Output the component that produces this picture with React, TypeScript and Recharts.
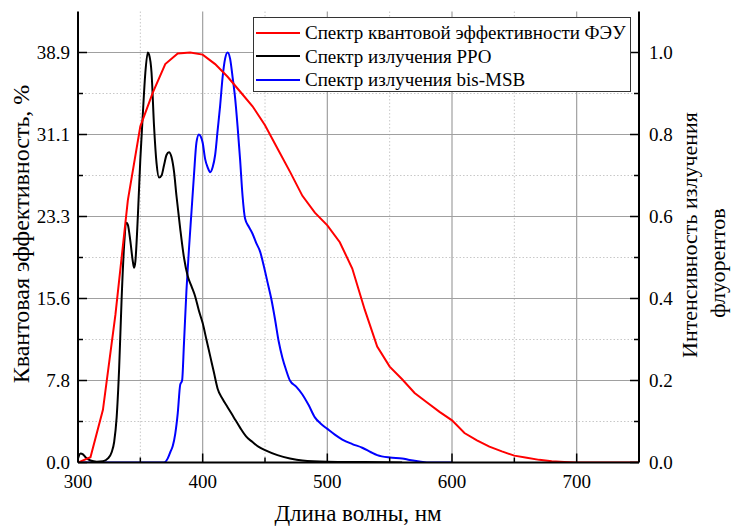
import React from 'react';
import { LineChart, Line, XAxis, YAxis, CartesianGrid } from 'recharts';

// Квантовая эффективность ФЭУ, % (левая ось)
const qeNm = [300, 310, 320, 330, 340, 350, 360, 370, 380, 390, 400, 410, 420, 430, 440, 450, 460, 470, 480, 490, 500, 510, 520, 530, 540, 550, 560, 570, 580, 590, 600, 610, 620, 630, 640, 650, 660, 670, 680, 690, 700, 750];
const qeVal = [0, 0.5, 5.0, 14.0, 24.9, 31.9, 35.1, 37.8, 38.8, 38.9, 38.7, 37.8, 36.6, 35.2, 33.8, 32.0, 29.8, 27.6, 25.3, 23.7, 22.5, 20.9, 18.4, 14.5, 11.0, 9.1, 7.9, 6.6, 5.7, 4.8, 4.0, 2.8, 2.1, 1.5, 1.05, 0.65, 0.45, 0.25, 0.12, 0.05, 0, 0];

// Спектр излучения PPO (правая ось)
const ppoNm = [300, 302, 304, 306, 310, 315, 320, 324, 327, 329, 331, 333, 335, 337, 339, 340, 342, 344, 345, 346, 348, 350, 352, 354, 356, 357, 359, 361, 363, 365, 367, 369, 371, 373, 375, 377, 379, 382, 385, 388, 391, 394, 397, 400, 403, 406, 409, 412, 416, 420, 425, 430, 435, 440, 445, 450, 460, 470, 480, 500, 530, 560];
const ppoVal = [0.01, 0.022, 0.02, 0.013, 0.005, 0.002, 0.003, 0.01, 0.025, 0.05, 0.11, 0.23, 0.4, 0.53, 0.585, 0.58, 0.54, 0.49, 0.475, 0.49, 0.6, 0.74, 0.85, 0.95, 1.0, 0.995, 0.95, 0.82, 0.73, 0.695, 0.7, 0.725, 0.75, 0.757, 0.745, 0.71, 0.65, 0.57, 0.5, 0.455, 0.43, 0.405, 0.37, 0.34, 0.3, 0.26, 0.22, 0.18, 0.155, 0.135, 0.11, 0.085, 0.063, 0.05, 0.038, 0.03, 0.018, 0.01, 0.005, 0.002, 0.001, 0];

// Спектр излучения bis-MSB (правая ось)
const msbNm = [300, 369, 372, 374, 376, 378, 380, 382, 383.5, 385, 387, 389, 391, 393, 395, 397, 398.5, 400, 402, 404, 406, 408, 410, 412, 414, 416, 418, 420, 422, 424, 426, 428, 430, 432, 434, 437, 440, 443, 446, 449, 452, 455, 458, 461, 464, 467, 470, 475, 480, 485, 490, 495, 500, 506, 512, 520, 528, 535, 540, 550, 560, 566, 575, 582, 600];
const msbVal = [0, 0, 0.01, 0.025, 0.04, 0.07, 0.12, 0.19, 0.2, 0.29, 0.42, 0.52, 0.61, 0.7, 0.78, 0.8, 0.795, 0.78, 0.74, 0.72, 0.708, 0.72, 0.75, 0.81, 0.87, 0.94, 0.985, 1.0, 0.985, 0.94, 0.89, 0.82, 0.74, 0.65, 0.595, 0.575, 0.558, 0.535, 0.515, 0.48, 0.44, 0.4, 0.35, 0.295, 0.255, 0.225, 0.2, 0.185, 0.166, 0.14, 0.11, 0.094, 0.082, 0.068, 0.056, 0.045, 0.036, 0.025, 0.018, 0.012, 0.01, 0.006, 0.002, 0, 0];

const xMajor = [300, 400, 500, 600, 700];
const xMinor = [350, 450, 550, 650];
const leftMajor = [0, 7.78, 15.56, 23.34, 31.12, 38.9];
const leftMinor = [3.89, 11.67, 19.45, 27.23, 35.01];
const rightMajor = [0, 0.2, 0.4, 0.6, 0.8, 1.0];
const rightMinor = [0.1, 0.3, 0.5, 0.7, 0.9];

const zip = (xs: number[], ys: number[]) => xs.map((x, i) => ({ nm: x, v: ys[i] }));
const qeData = zip(qeNm, qeVal);
const ppoData = zip(ppoNm, ppoVal);
const msbData = zip(msbNm, msbVal);

const FONT = "'Liberation Serif', 'Times New Roman', Tinos, 'Nimbus Roman', FreeSerif, 'Noto Serif', 'DejaVu Serif', serif";
const GAP = 8;
const has = (list: number[], v: number) => list.some((m) => Math.abs(m - v) < 1e-6);

const BottomTick = (p: any) => {
  const ay = p.y - GAP;
  const major = has(xMajor, p.payload.value);
  return (
    <g>
      <line x1={p.x} x2={p.x} y1={ay} y2={ay - (major ? 9 : 5)} stroke="#000" strokeWidth={1.5} />
      {major && (
        <text x={p.x} y={ay + 25} textAnchor="middle" fontSize={19} style={{ fontFamily: FONT }} fill="#000">
          {p.payload.value}
        </text>
      )}
    </g>
  );
};

const TopTick = (p: any) => {
  const ay = p.y + GAP;
  const major = has(xMajor, p.payload.value);
  return <line x1={p.x} x2={p.x} y1={ay} y2={ay + (major ? 9 : 5)} stroke="#000" strokeWidth={1.5} />;
};

const LeftTick = (p: any) => {
  const ax = p.x + GAP;
  const major = has(leftMajor, p.payload.value);
  return (
    <g>
      <line x1={ax} x2={ax + (major ? 9 : 5)} y1={p.y} y2={p.y} stroke="#000" strokeWidth={1.5} />
      {major && (
        <text x={ax - 8} y={p.y + 6.5} textAnchor="end" fontSize={19} style={{ fontFamily: FONT }} fill="#000">
          {p.payload.value.toFixed(1)}
        </text>
      )}
    </g>
  );
};

const RightTick = (p: any) => {
  const ax = p.x - GAP;
  const major = has(rightMajor, p.payload.value);
  return (
    <g>
      <line x1={ax} x2={ax - (major ? 9 : 5)} y1={p.y} y2={p.y} stroke="#000" strokeWidth={1.5} />
      {major && (
        <text x={ax + 10} y={p.y + 6.5} textAnchor="start" fontSize={19} style={{ fontFamily: FONT }} fill="#000">
          {p.payload.value.toFixed(1)}
        </text>
      )}
    </g>
  );
};

const legendItems = [
  { label: 'Спектр квантовой эффективности ФЭУ', color: '#ff0000' },
  { label: 'Спектр излучения PPO', color: '#000000' },
  { label: 'Спектр излучения bis-MSB', color: '#0000ff' },
];

const titleStyle: React.CSSProperties = {
  position: 'absolute',
  fontSize: 22,
  lineHeight: 1,
  whiteSpace: 'nowrap',
  color: '#000',
  fontFamily: FONT,
};

export default function App() {
  return (
    <div style={{ position: 'absolute', left: 0, top: 0, width: 731, height: 527, background: '#fff', fontFamily: FONT }}>
      <LineChart width={731} height={527} margin={{ top: 11.5, right: 32, bottom: 24.5, left: 18 }}>
        <CartesianGrid
          xAxisId={0}
          yAxisId="left"
          verticalValues={xMinor}
          horizontalValues={leftMinor}
          stroke="#c8c8c8"
          strokeDasharray="1.5 2"
          strokeWidth={1}
        />
        <CartesianGrid
          xAxisId={0}
          yAxisId="left"
          verticalValues={xMajor.slice(1)}
          horizontalValues={leftMajor.slice(1)}
          stroke="#a0a0a0"
          strokeWidth={1.2}
        />
        <XAxis
          dataKey="nm"
          type="number"
          domain={[300, 750]}
          ticks={[...xMajor, ...xMinor].sort((a, b) => a - b)}
          interval={0}
          allowDataOverflow
          height={40}
          tickSize={0}
          tickMargin={GAP}
          tickLine={false}
          tick={BottomTick}
          axisLine={{ stroke: '#000', strokeWidth: 2 }}
        />
        <XAxis
          xAxisId="top"
          orientation="top"
          dataKey="nm"
          type="number"
          domain={[300, 750]}
          ticks={[...xMajor.slice(1), ...xMinor].sort((a, b) => a - b)}
          interval={0}
          allowDataOverflow
          height={0}
          tickSize={0}
          tickMargin={GAP}
          tickLine={false}
          tick={TopTick}
          axisLine={{ stroke: '#000', strokeWidth: 2 }}
        />
        <YAxis
          yAxisId="left"
          type="number"
          domain={[0, 42.79]}
          ticks={[...leftMajor, ...leftMinor].sort((a, b) => a - b)}
          interval={0}
          allowDataOverflow
          width={60}
          tickSize={0}
          tickMargin={GAP}
          tickLine={false}
          tick={LeftTick}
          axisLine={{ stroke: '#000', strokeWidth: 2 }}
        />
        <YAxis
          yAxisId="right"
          orientation="right"
          type="number"
          domain={[0, 1.1]}
          ticks={[...rightMajor, ...rightMinor].sort((a, b) => a - b)}
          interval={0}
          allowDataOverflow
          width={60}
          tickSize={0}
          tickMargin={GAP}
          tickLine={false}
          tick={RightTick}
          axisLine={{ stroke: '#000', strokeWidth: 2 }}
        />
        <Line yAxisId="right" data={msbData} dataKey="v" type="monotone" stroke="#0000ff" strokeWidth={2} dot={false} isAnimationActive={false} />
        <Line yAxisId="right" data={ppoData} dataKey="v" type="monotone" stroke="#000000" strokeWidth={2} dot={false} isAnimationActive={false} />
        <Line yAxisId="left" data={qeData} dataKey="v" type="linear" stroke="#ff0000" strokeWidth={2} dot={false} isAnimationActive={false} />
      </LineChart>

      <div
        style={{
          position: 'absolute',
          left: 253,
          top: 17,
          width: 378,
          height: 75,
          border: '1.5px solid #333',
          background: '#fff',
          boxSizing: 'border-box',
          paddingTop: 3,
        }}
      >
        {legendItems.map((it) => (
          <div key={it.label} style={{ display: 'flex', alignItems: 'center', height: 23.5 }}>
            <div style={{ width: 44, height: 2, background: it.color, marginLeft: 2, marginRight: 5 }} />
            <span style={{ fontSize: 19, lineHeight: '23px', color: '#000', whiteSpace: 'nowrap', fontFamily: FONT }}>{it.label}</span>
          </div>
        ))}
      </div>

      <div style={{ ...titleStyle, fontSize: 24, left: 21, top: 234, transform: 'translate(-50%, -50%) rotate(-90deg)' }}>
        Квантовая эффективность, %
      </div>
      <div style={{ ...titleStyle, left: 690, top: 235, transform: 'translate(-50%, -50%) rotate(-90deg)' }}>
        Интенсивность излучения
      </div>
      <div style={{ ...titleStyle, left: 718, top: 263, transform: 'translate(-50%, -50%) rotate(-90deg)' }}>
        флуорентов
      </div>
      <div style={{ ...titleStyle, fontSize: 23, left: 358, top: 513, transform: 'translate(-50%, -50%)' }}>
        Длина волны, нм
      </div>
    </div>
  );
}
